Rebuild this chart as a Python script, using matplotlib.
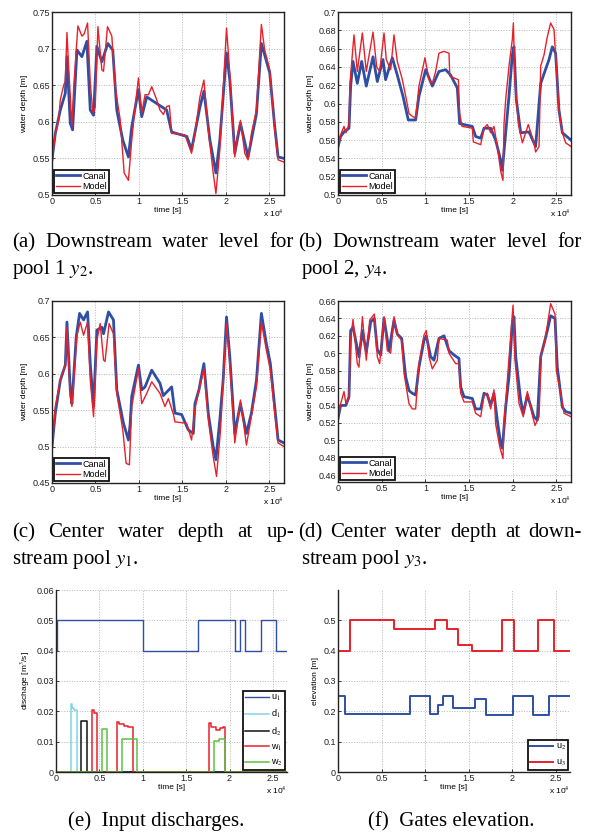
import numpy as np
import matplotlib
matplotlib.use("Agg")
import matplotlib.pyplot as plt

plt.rcParams['font.family'] = ['Liberation Sans', 'DejaVu Sans']
plt.rcParams['mathtext.fontset'] = 'stix'

# ---- data (time in s) ----
a_model_t = [0, 380, 760, 955, 1340, 1530, 1720, 1910, 2290, 2500, 2980, 3440, 3700, 4090, 4400, 4700, 4970, 5280, 5730, 5925,
             6380, 6880, 7260, 7840, 8300, 8790, 9170, 9560, 9940, 10320, 10700, 11090, 11470, 12040, 12420, 12810, 13190, 13500, 13760, 14330,
             15290, 16050, 16440, 17010, 17470, 17970, 18540, 18850, 19300, 19760, 20070, 20450, 21020, 21300, 21670, 22170, 22550, 22930, 23510, 24080,
             24460, 25040, 25610, 26000, 26680]
a_model_y = [0.546, 0.584, 0.602, 0.630, 0.650, 0.655, 0.722, 0.676, 0.594, 0.648, 0.731, 0.717, 0.720, 0.735, 0.653, 0.612, 0.620, 0.730, 0.671, 0.669,
             0.730, 0.717, 0.648, 0.603, 0.530, 0.520, 0.575, 0.620, 0.660, 0.612, 0.637, 0.637, 0.648, 0.630, 0.616, 0.610, 0.621, 0.622, 0.584, 0.584,
             0.582, 0.557, 0.584, 0.634, 0.657, 0.589, 0.530, 0.502, 0.562, 0.661, 0.728, 0.666, 0.552, 0.580, 0.602, 0.557, 0.548, 0.584, 0.616, 0.733,
             0.698, 0.671, 0.589, 0.548, 0.545]
a_canal_t = [0, 380, 955, 1530, 1720, 2100, 2370, 2870, 3440, 4010, 4400, 4780, 5160, 5730, 6420, 6990, 7450, 8140, 8790, 9170,
             9940, 10320, 10890, 12040, 13190, 13760, 15500, 16050, 17010, 17470, 18160, 18850, 19300, 20070, 20450, 21020, 21670, 22550, 23510, 24080,
             25040, 25610, 26000, 26680]
a_canal_y = [0.548, 0.584, 0.616, 0.639, 0.689, 0.598, 0.589, 0.698, 0.689, 0.710, 0.616, 0.609, 0.703, 0.682, 0.707, 0.698, 0.616, 0.575, 0.552, 0.593,
             0.644, 0.607, 0.634, 0.625, 0.616, 0.586, 0.580, 0.562, 0.620, 0.642, 0.575, 0.530, 0.575, 0.694, 0.657, 0.557, 0.598, 0.552, 0.611, 0.707,
             0.667, 0.594, 0.552, 0.550]

b_model_t = [0, 305, 690, 900, 1260, 1370, 1830, 2210, 2790, 3240, 4010, 4430, 4770, 5270, 5530, 6030, 6410, 6790, 7370, 7750,
             8130, 8510, 8890, 9270, 9960, 10420, 10800, 11180, 11560, 12140, 12710, 12800, 13280, 13780, 13930, 14200, 15380, 15500, 16340, 16720,
             17100, 17480, 17860, 18240, 18630, 18890, 19010, 19200, 19580, 19960, 20080, 20270, 20650, 21110, 21790, 22440, 22630, 23020, 23210, 23590,
             23970, 24350, 24730, 25000, 25300, 25690, 26070, 26680]
b_model_y = [0.551, 0.566, 0.575, 0.568, 0.577, 0.622, 0.675, 0.635, 0.677, 0.635, 0.678, 0.640, 0.635, 0.677, 0.648, 0.637, 0.675, 0.646, 0.626, 0.608,
             0.589, 0.586, 0.584, 0.619, 0.650, 0.626, 0.622, 0.635, 0.655, 0.657, 0.655, 0.630, 0.628, 0.626, 0.589, 0.575, 0.573, 0.558, 0.555, 0.573,
             0.577, 0.568, 0.575, 0.553, 0.526, 0.516, 0.578, 0.604, 0.641, 0.670, 0.688, 0.622, 0.578, 0.557, 0.577, 0.557, 0.547, 0.553, 0.641, 0.653,
             0.673, 0.688, 0.681, 0.641, 0.593, 0.568, 0.557, 0.553]
b_canal_t = [0, 305, 690, 1260, 1450, 1720, 2210, 2710, 3240, 4010, 4500, 5150, 5450, 6220, 6790, 7440, 8050, 8890, 9270, 10040,
             10800, 11560, 12330, 12900, 13660, 13930, 15380, 15760, 16340, 16720, 17480, 18050, 18630, 18820, 19200, 19580, 19960, 20150, 20420, 20920,
             21870, 22630, 23210, 24160, 24540, 24920, 25300, 25690, 26680]
b_canal_y = [0.553, 0.564, 0.569, 0.573, 0.619, 0.646, 0.622, 0.646, 0.619, 0.651, 0.624, 0.648, 0.626, 0.650, 0.631, 0.608, 0.582, 0.582, 0.608, 0.637,
             0.619, 0.635, 0.637, 0.631, 0.617, 0.578, 0.575, 0.564, 0.562, 0.573, 0.573, 0.560, 0.538, 0.527, 0.568, 0.608, 0.653, 0.662, 0.604, 0.568,
             0.569, 0.553, 0.622, 0.648, 0.662, 0.655, 0.593, 0.568, 0.560]

c_canal_t = [0, 380, 955, 1530, 1720, 2100, 2290, 2790, 3170, 3630, 4090, 4400, 4780, 5160, 5730, 5925, 6500, 7070, 7450, 8220,
             8790, 8980, 9170, 9940, 10320, 10700, 11470, 12420, 12800, 13760, 14140, 14910, 15670, 16250, 16440, 16900, 17470, 17970, 18540, 18850,
             19300, 19680, 20070, 20450, 21020, 21670, 22360, 22930, 23510, 24080, 24660, 25110, 25610, 26000, 26680]
c_canal_y = [0.500, 0.546, 0.591, 0.612, 0.671, 0.578, 0.559, 0.651, 0.683, 0.674, 0.685, 0.614, 0.555, 0.660, 0.664, 0.655, 0.685, 0.674, 0.578, 0.532,
             0.509, 0.530, 0.569, 0.612, 0.578, 0.582, 0.605, 0.587, 0.570, 0.582, 0.546, 0.544, 0.523, 0.518, 0.559, 0.578, 0.614, 0.546, 0.500, 0.482,
             0.537, 0.591, 0.678, 0.623, 0.518, 0.559, 0.518, 0.546, 0.591, 0.683, 0.641, 0.614, 0.555, 0.509, 0.505]
c_model_t = [0, 380, 955, 1530, 1720, 2100, 2290, 2870, 3250, 3630, 4090, 4400, 4780, 5160, 5540, 5925, 6100, 6570, 7070, 7450,
             8140, 8520, 8900, 9170, 9940, 10320, 10890, 11470, 12420, 12990, 13380, 13950, 14140, 15480, 16050, 16440, 17470, 17970, 18540, 18920,
             19380, 20070, 20450, 21020, 21670, 22360, 23510, 24080, 24660, 25110, 25610, 26000, 26680]
c_model_y = [0.496, 0.555, 0.591, 0.612, 0.664, 0.569, 0.555, 0.653, 0.671, 0.653, 0.671, 0.591, 0.541, 0.646, 0.669, 0.619, 0.617, 0.669, 0.655, 0.573,
             0.523, 0.477, 0.475, 0.555, 0.607, 0.559, 0.573, 0.589, 0.573, 0.555, 0.566, 0.545, 0.534, 0.532, 0.509, 0.553, 0.607, 0.537, 0.486, 0.459,
             0.523, 0.669, 0.614, 0.505, 0.564, 0.502, 0.582, 0.671, 0.632, 0.605, 0.546, 0.505, 0.500]

d_model_t = [0, 305, 690, 900, 1260, 1450, 1720, 2210, 2400, 2790, 3240, 3630, 4160, 4500, 4770, 5270, 5650, 6030, 6410, 6790,
             7290, 7560, 8130, 8510, 8890, 9270, 9850, 10110, 10420, 10800, 11370, 11560, 12520, 12700, 13470, 13850, 14050, 14430, 15380, 15760,
             16340, 16720, 17100, 17480, 17860, 18050, 18510, 18890, 19010, 19390, 19770, 20040, 20270, 20730, 21220, 21680, 22200, 22560, 23020, 23280,
             23590, 23970, 24350, 24850, 25000, 25500, 25880, 26680]
d_model_y = [0.525, 0.542, 0.556, 0.542, 0.548, 0.615, 0.639, 0.588, 0.584, 0.642, 0.592, 0.638, 0.645, 0.596, 0.588, 0.642, 0.603, 0.600, 0.642, 0.621,
             0.615, 0.577, 0.542, 0.536, 0.536, 0.588, 0.621, 0.626, 0.596, 0.582, 0.592, 0.617, 0.615, 0.600, 0.588, 0.588, 0.554, 0.544, 0.544, 0.531,
             0.527, 0.552, 0.554, 0.536, 0.558, 0.519, 0.493, 0.479, 0.519, 0.569, 0.619, 0.655, 0.592, 0.542, 0.527, 0.556, 0.531, 0.517, 0.527, 0.600,
             0.609, 0.632, 0.657, 0.645, 0.580, 0.554, 0.531, 0.527]
d_canal_t = [0, 305, 900, 1260, 1450, 1720, 2400, 2790, 3240, 3740, 4160, 4500, 4890, 5270, 5840, 6410, 6790, 7290, 7750, 8130,
             8510, 8890, 9270, 9850, 10110, 10610, 10990, 11560, 12140, 12710, 13280, 13850, 14050, 14430, 15380, 15760, 16340, 16720, 17100, 17480,
             17860, 18240, 18630, 18820, 19200, 19580, 19960, 20150, 20350, 20920, 21220, 21680, 22440, 22820, 23210, 23970, 24350, 24850, 25110, 25690,
             26070, 26680]
d_canal_y = [0.525, 0.540, 0.540, 0.550, 0.626, 0.630, 0.596, 0.626, 0.601, 0.636, 0.640, 0.604, 0.598, 0.640, 0.603, 0.638, 0.622, 0.617, 0.573, 0.557,
             0.554, 0.552, 0.584, 0.615, 0.620, 0.596, 0.592, 0.617, 0.620, 0.603, 0.598, 0.594, 0.561, 0.550, 0.548, 0.536, 0.536, 0.554, 0.552, 0.540,
             0.554, 0.523, 0.496, 0.491, 0.538, 0.573, 0.634, 0.642, 0.596, 0.546, 0.531, 0.552, 0.527, 0.523, 0.596, 0.626, 0.643, 0.640, 0.584, 0.538,
             0.533, 0.531]

# input discharges (step signals)
u1_t = [0, 100, 10000, 16400, 20630, 21170, 21820, 23660, 25380, 26620]
u1_v = [0.04, 0.05, 0.04, 0.05, 0.04, 0.05, 0.04, 0.05, 0.04, 0.04]
d1_t = [0, 1720, 1900, 2100, 2410, 26620]
d1_v = [0, 0.0225, 0.021, 0.0205, 0, 0]
d2_t = [0, 2910, 3560, 26620]
d2_v = [0, 0.0168, 0, 0]
w1_t = [0, 4130, 4350, 4710, 7000, 7300, 7800, 8300, 8840, 17610, 17900, 18400, 18900, 19200, 19450, 26620]
w1_v = [0, 0.0205, 0.0195, 0, 0.0165, 0.0158, 0.0153, 0.0148, 0, 0.016, 0.0150, 0.0140, 0.0145, 0.0150, 0, 0]
w2_t = [0, 5280, 5930, 7580, 9380, 18220, 18800, 19100, 19450, 26620]
w2_v = [0, 0.0143, 0, 0.011, 0, 0.0103, 0.0108, 0.011, 0, 0]

# gate elevations
u2_t = [0, 760, 8210, 10610, 11450, 12020, 13170, 15760, 17020, 20040, 22400, 24160, 26620]
u2_v = [0.25, 0.19, 0.25, 0.19, 0.22, 0.25, 0.21, 0.24, 0.187, 0.25, 0.187, 0.25, 0.25]
u3_t = [0, 1340, 6370, 11180, 12520, 13820, 15340, 18780, 20230, 22980, 24730, 26620]
u3_v = [0.40, 0.50, 0.472, 0.50, 0.472, 0.42, 0.40, 0.50, 0.40, 0.50, 0.40, 0.40]

xticks = [0, 5000, 10000, 15000, 20000, 25000]
xticklabels = ['0', '0.5', '1', '1.5', '2', '2.5']

BLUE = '#2e4fa3'
RED = '#e8202a'
FS = 6.5

W, H = 592, 832
fig = plt.figure(figsize=(W / 100, H / 100), dpi=100)


def box(l, r, t, b):
    return [l / W, 1 - b / H, (r - l) / W, (b - t) / H]


def style(ax, xmax, ylim, yticks, ylabel, full_box=True):
    ax.set_xlim(0, xmax)
    ax.set_ylim(*ylim)
    ax.set_xticks(xticks)
    ax.set_xticklabels(xticklabels)
    ax.set_yticks(yticks)
    ax.set_yticklabels([('%g' % v) for v in yticks])
    ax.tick_params(direction='in', length=2.5, width=0.6, labelsize=FS, pad=1.5, colors='#222222')
    ax.grid(True, linestyle=':', color='#b5b5b5', linewidth=0.7)
    ax.set_xlabel('time [s]', fontsize=FS - 0.5, labelpad=0.5)
    ax.set_ylabel(ylabel, fontsize=FS - 0.5, labelpad=3)
    for s in ax.spines.values():
        s.set_linewidth(1.0)
        s.set_color('#222222')
    if not full_box:
        ax.spines['top'].set_visible(False)
        ax.spines['right'].set_visible(False)
    ax.text(1.0, -0.07, r'x 10$^4$', transform=ax.transAxes, ha='right', va='top', fontsize=FS - 0.5)


def legend(ax, loc, spacing=0.15):
    lg = ax.legend(loc=loc, fontsize=FS, fancybox=False, framealpha=1, edgecolor='#111111',
                   handlelength=2.6, handletextpad=0.3, borderpad=0.2, labelspacing=spacing, borderaxespad=0.25)
    lg.get_frame().set_linewidth(1.3)


def depth_panel(rect, ct, cy, mt, my, ylim, yticks):
    ax = fig.add_axes(rect)
    ax.plot(ct, cy, color=BLUE, lw=2.0, label='Canal')
    ax.plot(mt, my, color=RED, lw=1.0, label='Model')
    style(ax, 26680, ylim, yticks, 'water depth [m]')
    legend(ax, 'lower left')
    return ax


depth_panel(box(52, 284, 12, 195), a_canal_t, a_canal_y, a_model_t, a_model_y,
            (0.5, 0.75), [0.5, 0.55, 0.6, 0.65, 0.7, 0.75])
depth_panel(box(338, 571, 12, 195), b_canal_t, b_canal_y, b_model_t, b_model_y,
            (0.5, 0.7), [0.5, 0.52, 0.54, 0.56, 0.58, 0.6, 0.62, 0.64, 0.66, 0.68, 0.7])
depth_panel(box(52, 284, 301, 483), c_canal_t, c_canal_y, c_model_t, c_model_y,
            (0.45, 0.7), [0.45, 0.5, 0.55, 0.6, 0.65, 0.7])
depth_panel(box(338, 571, 301, 482), d_canal_t, d_canal_y, d_model_t, d_model_y,
            (0.452, 0.66), [0.46, 0.48, 0.5, 0.52, 0.54, 0.56, 0.58, 0.6, 0.62, 0.64, 0.66])

# (e) input discharges
ax_e = fig.add_axes(box(56, 287, 590, 772))
ax_e.plot(u1_t, u1_v, drawstyle='steps-post', color=BLUE, lw=1.0, label=r'u$_1$')
ax_e.plot(d1_t, d1_v, drawstyle='steps-post', color='#7fd4e6', lw=1.1, label=r'd$_1$')
ax_e.plot(d2_t, d2_v, drawstyle='steps-post', color='#111111', lw=1.1, label=r'd$_2$')
ax_e.plot(w1_t, w1_v, drawstyle='steps-post', color=RED, lw=1.1, label=r'w$_1$')
ax_e.plot(w2_t, w2_v, drawstyle='steps-post', color='#5dc145', lw=1.1, label=r'w$_2$')
style(ax_e, 26620, (0, 0.06), [0, 0.01, 0.02, 0.03, 0.04, 0.05, 0.06], r'dischage [m$^3$/s]', full_box=False)
legend(ax_e, 'lower right', spacing=0.55)

# (f) gates elevation
ax_f = fig.add_axes(box(338, 570, 590, 772))
ax_f.plot(u2_t, u2_v, drawstyle='steps-post', color=BLUE, lw=1.4, label=r'u$_2$')
ax_f.plot(u3_t, u3_v, drawstyle='steps-post', color=RED, lw=1.4, label=r'u$_3$')
style(ax_f, 26620, (0, 0.6), [0, 0.1, 0.2, 0.3, 0.4, 0.5], 'elevation [m]', full_box=False)
legend(ax_f, 'lower right', spacing=0.6)

# ---- captions ----
CAP = dict(family=['Liberation Serif', 'DejaVu Serif'], fontsize=15, va='baseline')
renderer = fig.canvas.get_renderer()


def justify(words, x0, x1, y):
    texts = [fig.text(0, 1 - y / H, w, **CAP) for w in words]
    widths = [t.get_window_extent(renderer).width for t in texts]
    gap = (x1 - x0 - sum(widths)) / (len(words) - 1)
    x = x0
    for t, w in zip(texts, widths):
        t.set_x(x / W)
        x += w + gap


def line(s, x, y, ha='left'):
    fig.text(x / W, 1 - y / H, s, ha=ha, **CAP)


justify(['(a)', 'Downstream', 'water', 'level', 'for'], 12, 294, 247)
line(r'pool 1 $y_2$.', 12, 274)
justify(['(b)', 'Downstream', 'water', 'level', 'for'], 298, 582, 247)
line(r'pool 2, $y_4$.', 301, 274)
justify(['(c)', 'Center', 'water', 'depth', 'at', 'up-'], 12, 294, 537)
line(r'stream pool $y_1$.', 12, 564)
justify(['(d)', 'Center', 'water', 'depth', 'at', 'down-'], 298, 582, 537)
line(r'stream pool $y_3$.', 301, 564)
line('(e)  Input discharges.', 156, 826, ha='center')
line('(f)  Gates elevation.', 451, 826, ha='center')

fig.savefig('out.png', dpi=100)
